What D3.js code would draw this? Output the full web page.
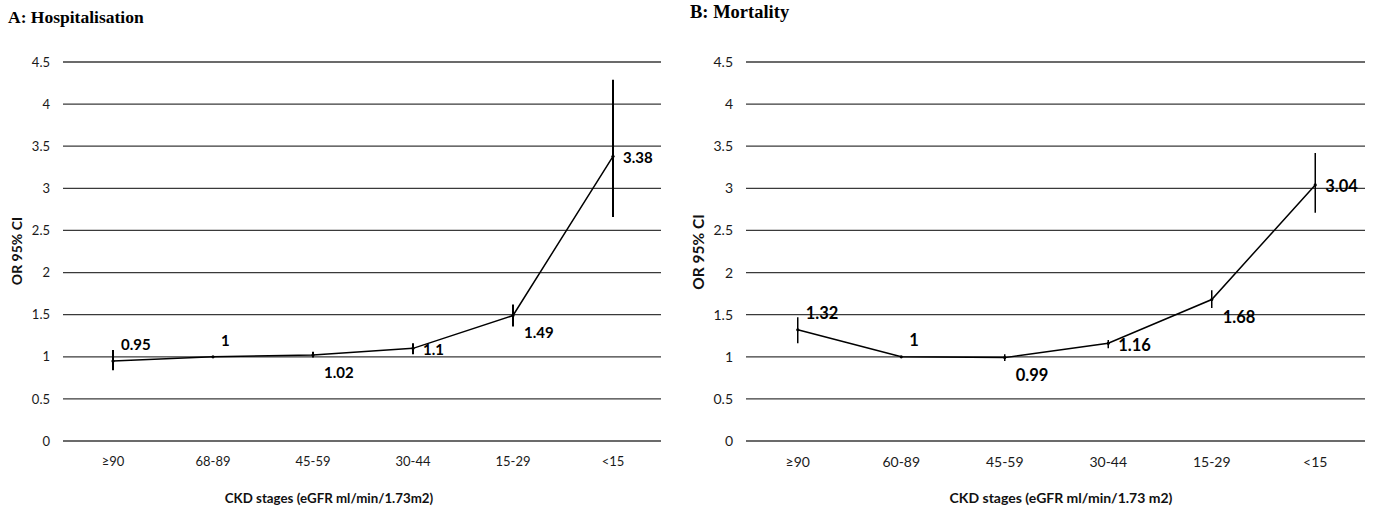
<!DOCTYPE html>
<html>
<head>
<meta charset="utf-8">
<script src="https://cdn.jsdelivr.net/npm/d3@7"></script>
<style>
  html, body { margin: 0; padding: 0; background: #fff; }
  svg { display: block; }
</style>
</head>
<body>
<svg id="chart" width="1375" height="509"></svg>
<script>
// ---- data ----
const categoriesA = ["\u226590", "68-89", "45-59", "30-44", "15-29", "<15"];
const orA    = [0.95, 1, 1.02, 1.1, 1.49, 3.38];
const lowerA = [0.84, 1, 0.99, 1.03, 1.36, 2.66];
const upperA = [1.08, 1, 1.06, 1.16, 1.62, 4.29];
const labelPosA = ["aboveRight", "aboveRight", "belowRight", "right", "belowRight", "right"];

const categoriesB = ["\u226590", "60-89", "45-59", "30-44", "15-29", "<15"];
const orB    = [1.32, 1, 0.99, 1.16, 1.68, 3.04];
const lowerB = [1.16, 1, 0.95, 1.10, 1.58, 2.71];
const upperB = [1.47, 1, 1.03, 1.20, 1.79, 3.42];
const labelPosB = ["aboveRight", "aboveRight", "belowRight", "right", "belowRight", "right"];

const yTicks = [0, 0.5, 1, 1.5, 2, 2.5, 3, 3.5, 4, 4.5];

const font = "Lato, 'Open Sans', sans-serif";
const svg = d3.select("#chart");

function panel(cfg) {
  const g = svg.append("g");
  const x = d3.scaleBand().domain(cfg.categories).range([cfg.x0, cfg.x1]);
  const y = d3.scaleLinear().domain([0, 4.5]).range([cfg.yBottom, cfg.yTop]);

  // title
  g.append("text").attr("x", cfg.titleX).attr("y", cfg.titleY)
    .attr("font-family", "'Liberation Serif', 'Times New Roman', serif")
    .attr("font-weight", "bold").attr("font-size", cfg.titleSize).attr("fill", "#000")
    .text(cfg.title);

  // gridlines
  g.append("g").selectAll("line").data(yTicks).join("line")
    .attr("x1", cfg.x0).attr("x2", cfg.x1 - 2)
    .attr("y1", d => y(d)).attr("y2", d => y(d))
    .attr("stroke", "#3a3a3a").attr("stroke-width", 1.3);

  // y axis labels
  const yAxis = d3.axisLeft(y).tickValues(yTicks).tickSize(0).tickPadding(0)
    .tickFormat(d => String(d));
  const ya = g.append("g").attr("transform", `translate(${cfg.x0 - 13},0)`).call(yAxis);
  ya.select(".domain").remove();
  ya.selectAll("text").attr("font-family", font).attr("font-size", cfg.tickSize).attr("fill", "#1a1a1a");

  // x axis labels
  const xAxis = d3.axisBottom(x).tickSize(0).tickPadding(0);
  const xa = g.append("g").attr("transform", `translate(0,${cfg.yBottom + 16})`).call(xAxis);
  xa.select(".domain").remove();
  xa.selectAll("text").attr("font-family", font).attr("font-size", cfg.tickSize).attr("fill", "#1a1a1a");

  // axis titles
  g.append("text").attr("x", cfg.xTitleX).attr("y", cfg.yBottom + 62)
    .attr("text-anchor", "middle").attr("font-family", font).attr("font-weight", "bold")
    .attr("font-size", cfg.xTitleSize).attr("fill", "#111").text(cfg.xTitle);
  g.append("text")
    .attr("transform", `translate(${cfg.yLabelX},${cfg.yLabelY}) rotate(-90)`)
    .attr("text-anchor", "middle").attr("dominant-baseline", "middle")
    .attr("font-family", font).attr("font-weight", "bold")
    .attr("font-size", cfg.yLabelSize).attr("fill", "#111").text("OR 95% CI");

  const cx = d => x(d) + x.bandwidth() / 2;
  const pts = cfg.categories.map((c, i) => ({c, v: cfg.or[i], lo: cfg.lower[i], hi: cfg.upper[i], pos: cfg.labelPos[i]}));

  // error bars
  g.append("g").selectAll("line").data(pts.filter(p => p.hi > p.lo)).join("line")
    .attr("x1", p => cx(p.c)).attr("x2", p => cx(p.c))
    .attr("y1", p => y(p.lo)).attr("y2", p => y(p.hi))
    .attr("stroke", "#000").attr("stroke-width", cfg.errWidth);

  // line
  const line = d3.line().x(p => cx(p.c)).y(p => y(p.v));
  g.append("path").datum(pts).attr("d", line)
    .attr("fill", "none").attr("stroke", "#000").attr("stroke-width", 1.5);

  // markers
  g.append("g").selectAll("circle").data(pts).join("circle")
    .attr("cx", p => cx(p.c)).attr("cy", p => y(p.v)).attr("r", 1.6).attr("fill", "#000");

  // data labels
  const off = {
    aboveRight: [8, -15],
    belowRight: [11, 19],
    right: [10, 3],
  };
  g.append("g").selectAll("text").data(pts).join("text")
    .attr("x", p => cx(p.c) + off[p.pos][0])
    .attr("y", p => y(p.v) + off[p.pos][1])
    .attr("dominant-baseline", "middle")
    .attr("font-family", font).attr("font-weight", "bold")
    .attr("font-size", cfg.labelSize).attr("fill", "#000")
    .text(p => String(p.v));
}

panel({
  categories: categoriesA, or: orA, lower: lowerA, upper: upperA, labelPos: labelPosA,
  x0: 63, x1: 663, yTop: 62, yBottom: 441,
  title: "A: Hospitalisation", titleX: 8, titleY: 23, titleSize: 17.5,
  xTitle: "CKD stages (eGFR ml/min/1.73m2)", xTitleX: 329, xTitleSize: 13.3,
  yLabelX: 18, yLabelY: 251, yLabelSize: 14,
  tickSize: 13, labelSize: 15, errWidth: 2
});

panel({
  categories: categoriesB, or: orB, lower: lowerB, upper: upperB, labelPos: labelPosB,
  x0: 746, x1: 1367, yTop: 62, yBottom: 441,
  title: "B: Mortality", titleX: 690, titleY: 18, titleSize: 18.5,
  xTitle: "CKD stages (eGFR ml/min/1.73 m2)", xTitleX: 1061, xTitleSize: 14,
  yLabelX: 700, yLabelY: 252, yLabelSize: 15.5,
  tickSize: 14, labelSize: 16.5, errWidth: 1.5
});
</script>
</body>
</html>
